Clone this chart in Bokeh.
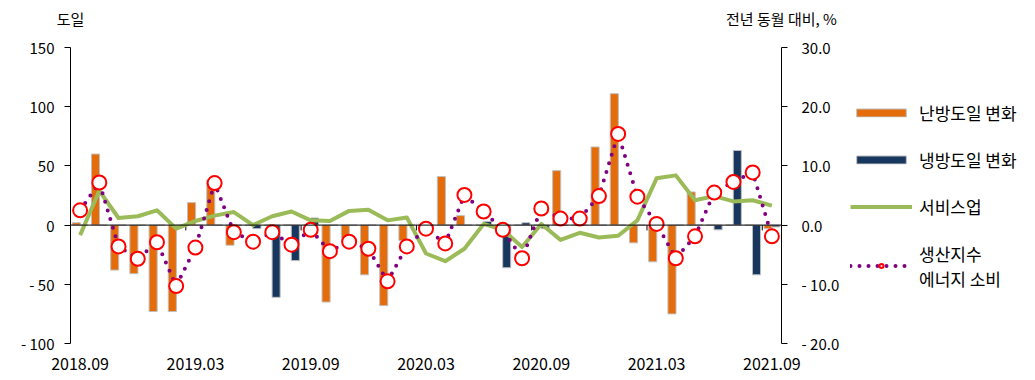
from bokeh.plotting import figure
from bokeh.layouts import row
from bokeh.models import (Range1d, LinearAxis, FixedTicker, Span, Legend, LegendItem,
                          ColumnDataSource)
from bokeh.embed import file_html
from bokeh.resources import INLINE

# ---------------- data ----------------
months = ["2018.09", "2018.10", "2018.11", "2018.12",
          "2019.01", "2019.02", "2019.03", "2019.04", "2019.05", "2019.06",
          "2019.07", "2019.08", "2019.09", "2019.10", "2019.11", "2019.12",
          "2020.01", "2020.02", "2020.03", "2020.04", "2020.05", "2020.06",
          "2020.07", "2020.08", "2020.09", "2020.10", "2020.11", "2020.12",
          "2021.01", "2021.02", "2021.03", "2021.04", "2021.05", "2021.06",
          "2021.07", "2021.08", "2021.09"]

# 난방도일 변화 (left axis, 도일)
heating = [2, 60, -38, -41, -73, -73, 19, 38, -17, 0,
           0, 0, 0, -65, -11, -42, -68, -13, 0, 41,
           8, 0, 0, 0, 0, 46, 0, 66, 111, -15,
           -31, -75, 28, 0, 0, 0, -3]

# 냉방도일 변화 (left axis, 도일)
cooling = [0, 0, 0, 0, 0, 0, 0, 0, 0, -3,
           -61, -30, 6, 0, 0, 0, 0, 0, 0, 0,
           0, 3, -36, 2, -3, 0, 0, 0, 0, 0,
           0, 0, 0, -4, 63, -42, -1.5]

# 서비스업 (right axis, %)
services = [-1.7, 5.8, 1.2, 1.5, 2.5, -0.6, 0.7, 1.6, 2.2, 0.0,
            1.5, 2.3, 0.8, 0.7, 2.4, 2.6, 0.8, 1.3, -4.8, -6.1,
            -4.0, 0.2, -0.8, -3.7, 0.2, -2.5, -1.3, -2.1, -1.8, 0.8,
            7.9, 8.4, 4.2, 4.9, 4.0, 4.2, 3.3]

# 생산지수 에너지 소비 (right axis, %)
energy = [2.5, 7.2, -3.6, -5.7, -2.9, -10.3, -3.8, 7.1, -1.2, -2.8,
          -1.2, -3.3, -0.8, -4.4, -2.8, -4.0, -9.5, -3.6, -0.6, -3.1,
          5.1, 2.3, -0.8, -5.6, 2.8, 1.1, 1.1, 4.9, 15.4, 4.8,
          0.2, -5.6, -1.9, 5.5, 7.3, 8.9, -1.9]

left_ticks = [-100, -50, 0, 50, 100, 150]
right_ticks = [-20, -10, 0, 10, 20, 30]
label_every = 6
left_title = "도일"
right_title = "전년 동월 대비, %"
series_names = ["난방도일 변화", "냉방도일 변화", "서비스업", "생산지수\n에너지 소비"]

# ---------------- styling ----------------
FONT = "Noto Sans CJK KR"
ORANGE = "#E46C0A"
NAVY = "#17375E"
GREEN = "#9BBB59"
PURPLE = "#800080"
RED = "#FF0000"
EDGE = "#BFBFBF"

idx = list(range(len(months)))
src = ColumnDataSource(dict(
    x=idx,
    xh=[i - 0.2 for i in idx],
    xc=[i + 0.2 for i in idx],
    heating=heating, cooling=cooling, services=services, energy=energy))

p = figure(frame_width=711, frame_height=296,
           x_range=Range1d(-0.5, len(months) - 0.5),
           y_range=Range1d(left_ticks[0], left_ticks[-1]),
           output_backend="svg", toolbar_location=None,
           min_border_left=70, min_border_right=69,
           min_border_top=47, min_border_bottom=33)
p.extra_y_ranges = {"pct": Range1d(right_ticks[0], right_ticks[-1])}
p.extra_x_ranges = {"hdr": Range1d(0, 1)}
p.outline_line_color = None
p.grid.visible = False
p.background_fill_color = "white"
p.border_fill_color = "white"

# bottom axis: labels only
xax = p.xaxis[0]
xticks = idx[::label_every]
xax.ticker = FixedTicker(ticks=xticks)
xax.major_label_overrides = {i: months[i] for i in xticks}
xax.axis_line_color = None
xax.major_tick_line_color = None
xax.major_tick_out = 0
xax.major_tick_in = 0
xax.minor_tick_line_color = None
xax.major_label_text_font = FONT
xax.major_label_text_font_size = "16px"
xax.major_label_text_color = "black"
xax.major_label_standoff = 14

def fmt_left(v):
    return ("- %d" % abs(v)) if v < 0 else "%d" % v

def fmt_right(v):
    return ("- %.1f" % abs(v)) if v < 0 else "%.1f" % v

yax = p.yaxis[0]
yax.ticker = FixedTicker(ticks=left_ticks)
yax.major_label_overrides = {v: fmt_left(v) for v in left_ticks}
yax.axis_line_color = "black"
yax.major_tick_line_color = "black"
yax.major_tick_out = 6
yax.major_tick_in = 0
yax.minor_tick_line_color = None
yax.major_label_text_font = FONT
yax.major_label_text_font_size = "15px"
yax.major_label_text_color = "black"
yax.major_label_standoff = 10

rax = LinearAxis(y_range_name="pct", ticker=FixedTicker(ticks=right_ticks))
rax.major_label_overrides = {v: fmt_right(v) for v in right_ticks}
rax.axis_line_color = "black"
rax.major_tick_line_color = "black"
rax.major_tick_out = 6
rax.major_tick_in = 0
rax.minor_tick_line_color = None
rax.major_label_text_font = FONT
rax.major_label_text_font_size = "15px"
rax.major_label_text_color = "black"
rax.major_label_standoff = 14
p.add_layout(rax, "right")

# unit titles as labels of a bare axis above the frame
hax = LinearAxis(x_range_name="hdr", ticker=FixedTicker(ticks=[0, 1]))
hax.major_label_overrides = {0: left_title, 1: right_title}
hax.axis_line_color = None
hax.major_tick_line_color = None
hax.major_tick_out = 0
hax.major_tick_in = 0
hax.minor_tick_line_color = None
hax.major_label_text_font = FONT
hax.major_label_text_font_size = "15px"
hax.major_label_text_color = "black"
hax.major_label_standoff = 19
p.add_layout(hax, "above")

# bars
p.vbar(x="xh", top="heating", bottom=0, width=0.42, source=src,
       fill_color=ORANGE, line_color=EDGE, line_width=1)
p.vbar(x="xc", top="cooling", bottom=0, width=0.42, source=src,
       fill_color=NAVY, line_color=EDGE, line_width=1)

# zero axis line and boundary ticks
p.add_layout(Span(location=0, dimension="width", line_color="black", line_width=1))
bounds = [t - 0.5 for t in xticks[1:]]
p.segment(x0=bounds, x1=bounds, y0=[0] * len(bounds), y1=[-4.5] * len(bounds),
          line_color="black", line_width=1)

# lines
p.line(x="x", y="services", source=src, y_range_name="pct",
       line_color=GREEN, line_width=4, line_join="round")
p.line(x="x", y="energy", source=src, y_range_name="pct",
       line_color=PURPLE, line_width=4, line_dash="0 9", line_cap="round")
p.scatter(x="x", y="energy", source=src, y_range_name="pct",
          marker="circle", size=14, fill_color="white",
          line_color=RED, line_width=2)

# ---------------- legend panel (separate figure; its view range excludes the data,
# so the glyphs there only serve as legend keys) ----------------
lg = figure(width=180, height=376, x_range=Range1d(-3, -2), y_range=Range1d(-3, -2),
            x_axis_location=None, y_axis_location=None,
            output_backend="svg", toolbar_location=None,
            min_border_left=0, min_border_right=0, min_border_top=0, min_border_bottom=0)
lg.outline_line_color = None
lg.grid.visible = False
lg.background_fill_color = "white"
lg.border_fill_color = "white"

k_heat = lg.vbar(x="xh", top="heating", bottom=0, width=0.42, source=src,
                 fill_color=ORANGE, line_color=EDGE, line_width=1)
k_cool = lg.vbar(x="xc", top="cooling", bottom=0, width=0.42, source=src,
                 fill_color=NAVY, line_color=EDGE, line_width=1)
k_serv = lg.line(x="x", y="services", source=src, line_color=GREEN, line_width=4)
k_dot = lg.line(x="x", y="energy", source=src, line_color=PURPLE, line_width=4,
                line_dash="0 9", line_cap="round")
k_circ = lg.scatter(x="x", y="energy", source=src, marker="circle", size=14,
                    fill_color="white", line_color=RED, line_width=2)

legend = Legend(items=[
    LegendItem(label=series_names[0], renderers=[k_heat]),
    LegendItem(label=series_names[1], renderers=[k_cool]),
    LegendItem(label=series_names[2], renderers=[k_serv]),
    LegendItem(label=series_names[3], renderers=[k_dot, k_circ]),
], location="center_left")
legend.padding = 0
legend.margin = 0
legend.border_line_color = None
legend.background_fill_alpha = 0
legend.glyph_width = 62
legend.glyph_height = 10
legend.label_standoff = 7
legend.label_height = 20
legend.spacing = 22
legend.label_text_font = FONT
legend.label_text_font_size = "17px"
legend.label_text_color = "black"
lg.add_layout(legend)

layout = row(p, lg, spacing=0)
open("out.html", "w").write(file_html(layout, INLINE))
